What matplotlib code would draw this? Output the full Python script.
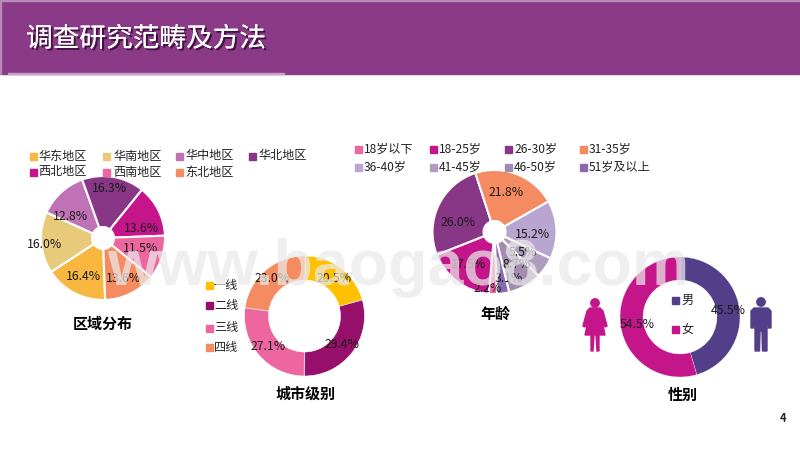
import matplotlib
matplotlib.use("Agg")
import matplotlib.pyplot as plt
import matplotlib.patheffects as pe
from matplotlib.patches import Circle, Polygon, Rectangle

plt.rcParams['font.family'] = ['Noto Sans CJK SC', 'DejaVu Sans']

# 区域分布
region_names = ["华东地区", "华南地区", "华中地区", "华北地区", "西北地区", "西南地区", "东北地区"]
region_vals = [16.4, 16.0, 12.8, 16.3, 13.6, 11.5, 13.6]
region_colors = ["#F9B73F", "#E8CA7B", "#BF72B5", "#873785", "#C4158B", "#EE66A0", "#F58B60"]

# 年龄
age_names = ["18岁以下", "18-25岁", "26-30岁", "31-35岁", "36-40岁", "41-45岁", "46-50岁", "51岁及以上"]
age_vals = [2.2, 17.5, 26.0, 21.8, 15.2, 5.5, 8.7, 3.1]
age_colors = ["#EE66A0", "#C4158B", "#873785", "#F58B60", "#B8A5D0", "#AE9EBE", "#A08DB0", "#8A6BB0"]

# 城市级别
city_names = ["一线", "二线", "三线", "四线"]
city_vals = [20.5, 29.4, 27.1, 23.0]
city_colors = ["#FFC000", "#960F6A", "#EE66A0", "#F58B60"]

# 性别
gender_names = ["男", "女"]
gender_vals = [45.5, 54.5]
gender_colors = ["#533E8A", "#C4158B"]

W, H = 800, 450
fig = plt.figure(figsize=(8, 4.5), dpi=100, facecolor="white")


def add_pie(cx, cy, r, hole, vals, colors, start, edge):
    ax = fig.add_axes([(cx - r) / W, 1 - (cy + r) / H, 2 * r / W, 2 * r / H], zorder=1)
    ax.pie(vals, colors=colors, startangle=90 - start, counterclock=False, radius=1,
           wedgeprops=dict(width=1 - hole / r, edgecolor="white", linewidth=edge, clip_on=False))
    ax.set_xlim(-1, 1)
    ax.set_ylim(-1, 1)


add_pie(103, 238, 62, 11, region_vals, region_colors, 178, 1.5)
add_pie(494.5, 232, 62, 11, age_vals, age_colors, 177.5, 1.5)
add_pie(304.5, 316, 60, 36, city_vals, city_colors, 0.7, 0.4)
add_pie(680, 317, 60, 37, gender_vals, gender_colors, 0, 0.2)

# 覆盖层，用像素坐标放文字和图例
ov = fig.add_axes([0, 0, 1, 1], zorder=5)
ov.set_xlim(0, W)
ov.set_ylim(H, 0)
ov.axis("off")
ov.patch.set_alpha(0)

# 顶部标题条
ov.add_patch(Rectangle((0, 0), W, 74, color="#8A3A87", zorder=1))
ov.add_patch(Rectangle((0, 0), W, 1, color="#B98AB6", zorder=2))
ov.add_patch(Rectangle((0, 0), 1, 74, color="#B98AB6", zorder=2))
ov.add_patch(Rectangle((8, 72.5), 276, 1.5, color="#C9A0C8", zorder=2))
ov.text(26, 39, "调查研究范畴及方法", color="white", fontsize=19.2, va="center", ha="left", zorder=3,
        path_effects=[pe.withSimplePatchShadow(offset=(1.5, -1.5), shadow_rgbFace="#2A0A2A", alpha=0.8), pe.Normal()])


def add_legend(names, colors, sx, tx, ys):
    for name, c, x, t, y in zip(names, colors, sx, tx, ys):
        ov.add_patch(Rectangle((x - 3, y - 3), 6.5, 6.5, color=c, zorder=3))
        ov.text(t, y, name, fontsize=8.7, va="center", ha="left", color="#222222", zorder=3)


add_legend(region_names, region_colors,
           [33, 106, 179, 252, 33, 106, 179],
           [38, 113, 185, 258, 38, 113, 185],
           [156, 156, 156, 156, 172, 172, 172])
add_legend(age_names, age_colors,
           [358, 433, 508, 583, 358, 433, 508, 583],
           [364, 439, 514, 589, 364, 439, 514, 589],
           [149, 149, 149, 149, 167, 167, 167, 167])
add_legend(city_names, city_colors, [209] * 4, [214] * 4, [285, 305, 328, 347])
add_legend(gender_names, gender_colors, [675, 675], [681, 681], [300, 329])

# 百分比标签
region_pos = [(83, 277), (44, 245), (70, 217), (109, 189), (141, 229), (141, 248), (123, 278)]
age_pos = [(488, 289), (468, 264), (458, 223), (506, 192), (532, 234), (523, 252), (517, 265), (509, 278)]
city_pos = [(334, 278), (342, 344), (268, 347), (272, 279)]
gender_pos = [(728, 311), (637, 324)]
for vals, pos in [(region_vals, region_pos), (age_vals, age_pos), (city_vals, city_pos), (gender_vals, gender_pos)]:
    for v, (x, y) in zip(vals, pos):
        ov.text(x, y, f"{v:.1f}%", fontsize=8.8, ha="center", va="center", color="#1A1A1A", zorder=3)

# 小标题
for txt, x, y in [("区域分布", 103, 324), ("城市级别", 306, 394), ("年龄", 495, 314), ("性别", 683, 395)]:
    ov.text(x, y, txt, fontsize=10.8, fontweight="bold", ha="center", va="center", color="black", zorder=3)

ov.text(783, 419, "4", fontsize=8, fontweight="bold", ha="center", va="center", color="#222222", zorder=3)

# 人形图标
ov.add_patch(Circle((595, 303), 4.2, color="#C4158B", zorder=3))
ov.add_patch(Polygon([(590, 308), (600, 308), (603, 311), (607, 326), (605, 327), (601, 316), (605, 335),
                      (599, 335), (599, 351), (597, 351), (596, 335), (594, 335), (593, 351), (591, 351),
                      (591, 335), (585, 335), (589, 316), (585, 327), (583, 326), (587, 311)],
                     closed=True, color="#C4158B", zorder=3))
ov.add_patch(Circle((761, 302), 4.2, color="#533E8A", zorder=3))
ov.add_patch(Polygon([(754, 308), (768, 308), (771, 311), (771, 328), (768.5, 328), (768, 315), (767, 315),
                      (767, 351), (762.5, 351), (762, 331), (760, 331), (759.5, 351), (755, 351), (755, 315),
                      (754, 315), (753.5, 328), (751, 328), (751, 311)],
                    closed=True, color="#533E8A", zorder=3))

# 水印
ov.text(107, 285, "www.baogao8.com", fontsize=46.5, fontfamily="Liberation Sans", fontweight="bold",
        color="#EAEAEA", alpha=0.72, ha="left", va="baseline", zorder=4)

fig.savefig("out.png", dpi=100)
